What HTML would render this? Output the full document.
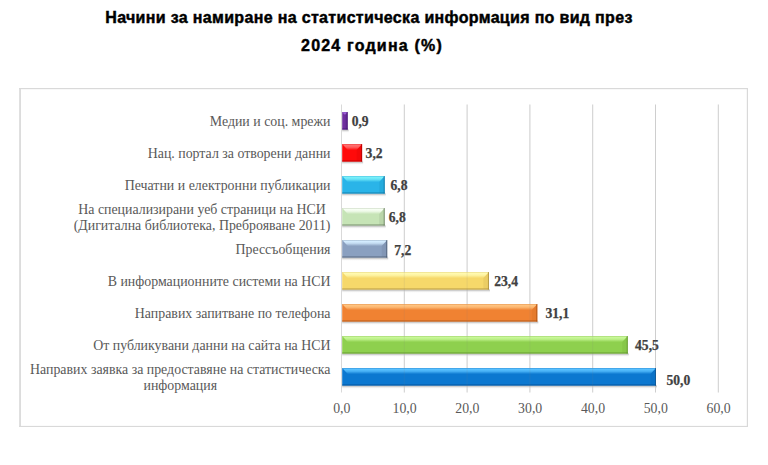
<!DOCTYPE html>
<html><head><meta charset="utf-8">
<style>
html,body{margin:0;padding:0;background:#fff;width:768px;height:465px;overflow:hidden;position:relative}
.t{position:absolute;left:0;width:738px;text-align:center;font-family:"Liberation Sans",sans-serif;font-weight:bold;color:#000;white-space:nowrap;-webkit-text-stroke:0.45px #000}
svg{position:absolute;left:0;top:0}
.c{font-family:"Liberation Serif",serif;font-size:13.88px;fill:#595959}
.v{font-family:"Liberation Serif",serif;font-size:13.6px;font-weight:bold;fill:#404040;stroke:#404040;stroke-width:0.25px}
.a{font-family:"Liberation Serif",serif;font-size:13.8px;fill:#595959}
.ml{position:absolute;right:437.5px;font-family:"Liberation Serif",serif;font-size:13.88px;line-height:16px;color:#595959;text-align:center;white-space:nowrap}
</style></head><body>
<div class="t" style="top:9.3px;font-size:16px;letter-spacing:0.33px">Начини за намиране на статистическа информация по вид през</div>
<div class="t" style="top:37.3px;font-size:16px;letter-spacing:1.2px;padding-left:3px">2024 година (%)</div>
<svg width="768" height="465" viewBox="0 0 768 465">
<defs>
<linearGradient id="sh" x1="0" y1="0" x2="0" y2="1"><stop offset="0" stop-color="#a8a8a8"/><stop offset="1" stop-color="#ffffff" stop-opacity="0"/></linearGradient>
<linearGradient id="g0" x1="0" y1="0" x2="0" y2="1"><stop offset="0" stop-color="#a468e0" stop-opacity="0.75"/><stop offset="0.25" stop-color="#a468e0" stop-opacity="1"/><stop offset="0.55" stop-color="#a468e0" stop-opacity="0.75"/><stop offset="1" stop-color="#a468e0" stop-opacity="0"/></linearGradient>
<linearGradient id="s0" x1="0" y1="0" x2="0" y2="1"><stop offset="0" stop-color="#7030a0"/><stop offset="1" stop-color="#7030a0"/></linearGradient>
<linearGradient id="g1" x1="0" y1="0" x2="0" y2="1"><stop offset="0" stop-color="#ff7070" stop-opacity="0.75"/><stop offset="0.25" stop-color="#ff7070" stop-opacity="1"/><stop offset="0.55" stop-color="#ff7070" stop-opacity="0.75"/><stop offset="1" stop-color="#ff7070" stop-opacity="0"/></linearGradient>
<linearGradient id="s1" x1="0" y1="0" x2="0" y2="1"><stop offset="0" stop-color="#ff0a0a"/><stop offset="1" stop-color="#ff0a0a"/></linearGradient>
<linearGradient id="g2" x1="0" y1="0" x2="0" y2="1"><stop offset="0" stop-color="#78f0fa" stop-opacity="0.75"/><stop offset="0.25" stop-color="#78f0fa" stop-opacity="1"/><stop offset="0.55" stop-color="#78f0fa" stop-opacity="0.75"/><stop offset="1" stop-color="#78f0fa" stop-opacity="0"/></linearGradient>
<linearGradient id="s2" x1="0" y1="0" x2="0" y2="1"><stop offset="0" stop-color="#2ab4e8"/><stop offset="1" stop-color="#2ab4e8"/></linearGradient>
<linearGradient id="g3" x1="0" y1="0" x2="0" y2="1"><stop offset="0" stop-color="#f8fff4" stop-opacity="0.75"/><stop offset="0.25" stop-color="#f8fff4" stop-opacity="1"/><stop offset="0.55" stop-color="#f8fff4" stop-opacity="0.75"/><stop offset="1" stop-color="#f8fff4" stop-opacity="0"/></linearGradient>
<linearGradient id="s3" x1="0" y1="0" x2="0" y2="1"><stop offset="0" stop-color="#c6e4b6"/><stop offset="1" stop-color="#c6e4b6"/></linearGradient>
<linearGradient id="g4" x1="0" y1="0" x2="0" y2="1"><stop offset="0" stop-color="#d4ecff" stop-opacity="0.75"/><stop offset="0.25" stop-color="#d4ecff" stop-opacity="1"/><stop offset="0.55" stop-color="#d4ecff" stop-opacity="0.75"/><stop offset="1" stop-color="#d4ecff" stop-opacity="0"/></linearGradient>
<linearGradient id="s4" x1="0" y1="0" x2="0" y2="1"><stop offset="0" stop-color="#8aa0c0"/><stop offset="1" stop-color="#8aa0c0"/></linearGradient>
<linearGradient id="g5" x1="0" y1="0" x2="0" y2="1"><stop offset="0" stop-color="#fffab0" stop-opacity="0.75"/><stop offset="0.25" stop-color="#fffab0" stop-opacity="1"/><stop offset="0.55" stop-color="#fffab0" stop-opacity="0.75"/><stop offset="1" stop-color="#fffab0" stop-opacity="0"/></linearGradient>
<linearGradient id="s5" x1="0" y1="0" x2="0" y2="1"><stop offset="0" stop-color="#f6d86a"/><stop offset="1" stop-color="#f6d86a"/></linearGradient>
<linearGradient id="g6" x1="0" y1="0" x2="0" y2="1"><stop offset="0" stop-color="#ffc480" stop-opacity="0.75"/><stop offset="0.25" stop-color="#ffc480" stop-opacity="1"/><stop offset="0.55" stop-color="#ffc480" stop-opacity="0.75"/><stop offset="1" stop-color="#ffc480" stop-opacity="0"/></linearGradient>
<linearGradient id="s6" x1="0" y1="0" x2="0" y2="1"><stop offset="0" stop-color="#f08232"/><stop offset="1" stop-color="#f08232"/></linearGradient>
<linearGradient id="g7" x1="0" y1="0" x2="0" y2="1"><stop offset="0" stop-color="#c8f898" stop-opacity="0.75"/><stop offset="0.25" stop-color="#c8f898" stop-opacity="1"/><stop offset="0.55" stop-color="#c8f898" stop-opacity="0.75"/><stop offset="1" stop-color="#c8f898" stop-opacity="0"/></linearGradient>
<linearGradient id="s7" x1="0" y1="0" x2="0" y2="1"><stop offset="0" stop-color="#8ed04e"/><stop offset="1" stop-color="#8ed04e"/></linearGradient>
<linearGradient id="g8" x1="0" y1="0" x2="0" y2="1"><stop offset="0" stop-color="#58c0ff" stop-opacity="0.75"/><stop offset="0.25" stop-color="#58c0ff" stop-opacity="1"/><stop offset="0.55" stop-color="#58c0ff" stop-opacity="0.75"/><stop offset="1" stop-color="#58c0ff" stop-opacity="0"/></linearGradient>
<linearGradient id="s8" x1="0" y1="0" x2="0" y2="1"><stop offset="0" stop-color="#0c78d0"/><stop offset="1" stop-color="#0c78d0"/></linearGradient>
</defs>
<rect x="19.2" y="88" width="728.8" height="1.2" fill="#d9d9d9"/><rect x="19.2" y="88" width="1.7" height="339" fill="#d9d9d9"/><rect x="746.8" y="88" width="1.2" height="339" fill="#d9d9d9"/><rect x="19.2" y="425.9" width="728.8" height="1.1" fill="#d9d9d9"/>
<rect x="341.00" y="104.5" width="1" height="288.0" fill="#d9d9d9"/><rect x="403.80" y="104.5" width="1" height="288.0" fill="#d9d9d9"/><rect x="466.60" y="104.5" width="1" height="288.0" fill="#d9d9d9"/><rect x="529.40" y="104.5" width="1" height="288.0" fill="#d9d9d9"/><rect x="592.20" y="104.5" width="1" height="288.0" fill="#d9d9d9"/><rect x="655.00" y="104.5" width="1" height="288.0" fill="#d9d9d9"/><rect x="717.80" y="104.5" width="1" height="288.0" fill="#d9d9d9"/>
<rect x="342.20" y="129.60" width="6.45" height="3.5" fill="url(#sh)"/>
<rect x="342.20" y="112.10" width="5.45" height="17.5" fill="#7030a0"/>
<polygon points="342.20,112.10 347.65,112.10 344.93,115.33 344.93,115.33" fill="url(#g0)"/>
<polygon points="347.65,112.10 347.65,129.60 344.93,128.60 344.93,115.33" fill="#3c1068" opacity="0.12"/>
<rect x="346.65" y="112.10" width="1" height="17.5" fill="#3c1068" opacity="0.7"/>
<rect x="342.20" y="128.40" width="5.45" height="1.2" fill="#3c1068" opacity="0.6"/>
<rect x="342.20" y="112.10" width="5.45" height="0.8" fill="#3c1068" opacity="0.15"/>
<text x="351.65" y="125.50" class="v">0,9</text>
<text x="330.5" y="126.2" class="c" text-anchor="end">Медии и соц. мрежи</text>
<rect x="342.20" y="161.60" width="20.90" height="3.5" fill="url(#sh)"/>
<rect x="342.20" y="144.10" width="19.90" height="17.5" fill="#ff0a0a"/>
<polygon points="342.20,144.10 362.10,144.10 356.60,150.10 347.70,150.10" fill="url(#g1)"/>
<polygon points="362.10,144.10 362.10,161.60 356.60,160.60 356.60,150.10" fill="#a80000" opacity="0.12"/>
<rect x="361.10" y="144.10" width="1" height="17.5" fill="#a80000" opacity="0.7"/>
<rect x="342.20" y="160.40" width="19.90" height="1.2" fill="#a80000" opacity="0.6"/>
<rect x="342.20" y="144.10" width="19.90" height="0.8" fill="#a80000" opacity="0.15"/>
<text x="365.60" y="157.50" class="v">3,2</text>
<text x="330.5" y="158.2" class="c" text-anchor="end">Нац. портал за отворени данни</text>
<rect x="342.20" y="193.60" width="43.50" height="3.5" fill="url(#sh)"/>
<rect x="342.20" y="176.10" width="42.50" height="17.5" fill="#2ab4e8"/>
<polygon points="342.20,176.10 384.70,176.10 379.20,182.10 347.70,182.10" fill="url(#g2)"/>
<polygon points="384.70,176.10 384.70,193.60 379.20,192.60 379.20,182.10" fill="#0c6c98" opacity="0.12"/>
<rect x="383.70" y="176.10" width="1" height="17.5" fill="#0c6c98" opacity="0.7"/>
<rect x="342.20" y="192.40" width="42.50" height="1.2" fill="#0c6c98" opacity="0.6"/>
<rect x="342.20" y="176.10" width="42.50" height="0.8" fill="#0c6c98" opacity="0.15"/>
<text x="390.50" y="189.80" class="v">6,8</text>
<text x="330.5" y="190.2" class="c" text-anchor="end">Печатни и електронни публикации</text>
<rect x="342.20" y="225.60" width="43.50" height="3.5" fill="url(#sh)"/>
<rect x="342.20" y="208.10" width="42.50" height="17.5" fill="#c6e4b6"/>
<polygon points="342.20,208.10 384.70,208.10 379.20,214.10 347.70,214.10" fill="url(#g3)"/>
<polygon points="384.70,208.10 384.70,225.60 379.20,224.60 379.20,214.10" fill="#5c6c54" opacity="0.12"/>
<rect x="383.70" y="208.10" width="1" height="17.5" fill="#5c6c54" opacity="0.7"/>
<rect x="342.20" y="224.40" width="42.50" height="1.2" fill="#5c6c54" opacity="0.6"/>
<rect x="342.20" y="208.10" width="42.50" height="0.8" fill="#5c6c54" opacity="0.15"/>
<text x="388.80" y="221.50" class="v">6,8</text>
<rect x="342.20" y="257.60" width="46.02" height="3.5" fill="url(#sh)"/>
<rect x="342.20" y="240.10" width="45.02" height="17.5" fill="#8aa0c0"/>
<polygon points="342.20,240.10 387.22,240.10 381.72,246.10 347.70,246.10" fill="url(#g4)"/>
<polygon points="387.22,240.10 387.22,257.60 381.72,256.60 381.72,246.10" fill="#465468" opacity="0.12"/>
<rect x="386.22" y="240.10" width="1" height="17.5" fill="#465468" opacity="0.7"/>
<rect x="342.20" y="256.40" width="45.02" height="1.2" fill="#465468" opacity="0.6"/>
<rect x="342.20" y="240.10" width="45.02" height="0.8" fill="#465468" opacity="0.15"/>
<text x="394.22" y="254.70" class="v">7,2</text>
<text x="330.5" y="254.2" class="c" text-anchor="end">Прессъобщения</text>
<rect x="342.20" y="289.60" width="147.75" height="3.5" fill="url(#sh)"/>
<rect x="342.20" y="272.10" width="146.75" height="17.5" fill="#f6d86a"/>
<polygon points="342.20,272.10 488.95,272.10 483.45,278.10 347.70,278.10" fill="url(#g5)"/>
<polygon points="488.95,272.10 488.95,289.60 483.45,288.60 483.45,278.10" fill="#a08438" opacity="0.12"/>
<rect x="487.95" y="272.10" width="1" height="17.5" fill="#a08438" opacity="0.7"/>
<rect x="342.20" y="288.40" width="146.75" height="1.2" fill="#a08438" opacity="0.6"/>
<rect x="342.20" y="272.10" width="146.75" height="0.8" fill="#a08438" opacity="0.15"/>
<text x="494.15" y="285.50" class="v">23,4</text>
<text x="330.5" y="286.2" class="c" text-anchor="end">В информационните системи на НСИ</text>
<rect x="342.20" y="321.60" width="196.11" height="3.5" fill="url(#sh)"/>
<rect x="342.20" y="304.10" width="195.11" height="17.5" fill="#f08232"/>
<polygon points="342.20,304.10 537.31,304.10 531.81,310.10 347.70,310.10" fill="url(#g6)"/>
<polygon points="537.31,304.10 537.31,321.60 531.81,320.60 531.81,310.10" fill="#a04c10" opacity="0.12"/>
<rect x="536.31" y="304.10" width="1" height="17.5" fill="#a04c10" opacity="0.7"/>
<rect x="342.20" y="320.40" width="195.11" height="1.2" fill="#a04c10" opacity="0.6"/>
<rect x="342.20" y="304.10" width="195.11" height="0.8" fill="#a04c10" opacity="0.15"/>
<text x="545.41" y="317.50" class="v">31,1</text>
<text x="330.5" y="318.2" class="c" text-anchor="end">Направих запитване по телефона</text>
<rect x="342.20" y="353.60" width="286.54" height="3.5" fill="url(#sh)"/>
<rect x="342.20" y="336.10" width="285.54" height="17.5" fill="#8ed04e"/>
<polygon points="342.20,336.10 627.74,336.10 622.24,342.10 347.70,342.10" fill="url(#g7)"/>
<polygon points="627.74,336.10 627.74,353.60 622.24,352.60 622.24,342.10" fill="#588828" opacity="0.12"/>
<rect x="626.74" y="336.10" width="1" height="17.5" fill="#588828" opacity="0.7"/>
<rect x="342.20" y="352.40" width="285.54" height="1.2" fill="#588828" opacity="0.6"/>
<rect x="342.20" y="336.10" width="285.54" height="0.8" fill="#588828" opacity="0.15"/>
<text x="635.04" y="349.80" class="v">45,5</text>
<text x="330.5" y="350.2" class="c" text-anchor="end">От публикувани данни на сайта на НСИ</text>
<rect x="342.20" y="385.60" width="314.80" height="3.5" fill="url(#sh)"/>
<rect x="342.20" y="368.10" width="313.80" height="17.5" fill="#0c78d0"/>
<polygon points="342.20,368.10 656.00,368.10 650.50,374.10 347.70,374.10" fill="url(#g8)"/>
<polygon points="656.00,368.10 656.00,385.60 650.50,384.60 650.50,374.10" fill="#004a8c" opacity="0.12"/>
<rect x="655.00" y="368.10" width="1" height="17.5" fill="#004a8c" opacity="0.7"/>
<rect x="342.20" y="384.40" width="313.80" height="1.2" fill="#004a8c" opacity="0.6"/>
<rect x="342.20" y="368.10" width="313.80" height="0.8" fill="#004a8c" opacity="0.15"/>
<text x="666.40" y="384.50" class="v">50,0</text>
<rect x="403.80" y="104.5" width="1" height="288.0" fill="#808080" opacity="0.12"/><rect x="466.60" y="104.5" width="1" height="288.0" fill="#808080" opacity="0.12"/><rect x="529.40" y="104.5" width="1" height="288.0" fill="#808080" opacity="0.12"/><rect x="592.20" y="104.5" width="1" height="288.0" fill="#808080" opacity="0.12"/><rect x="655.00" y="104.5" width="1" height="288.0" fill="#808080" opacity="0.12"/><rect x="717.80" y="104.5" width="1" height="288.0" fill="#808080" opacity="0.12"/>
<text x="341.80" y="413.3" class="a" text-anchor="middle">0,0</text><text x="404.60" y="413.3" class="a" text-anchor="middle">10,0</text><text x="467.40" y="413.3" class="a" text-anchor="middle">20,0</text><text x="530.20" y="413.3" class="a" text-anchor="middle">30,0</text><text x="593.00" y="413.3" class="a" text-anchor="middle">40,0</text><text x="655.80" y="413.3" class="a" text-anchor="middle">50,0</text><text x="718.60" y="413.3" class="a" text-anchor="middle">60,0</text>
</svg>
<div class="ml" style="top:201.5px">На специализирани уеб страници на НСИ <br>(Дигитална библиотека, Преброяване 2011)</div><div class="ml" style="top:361.5px">Направих заявка за предоставяне на статистическа<br>информация</div>
</body></html>
